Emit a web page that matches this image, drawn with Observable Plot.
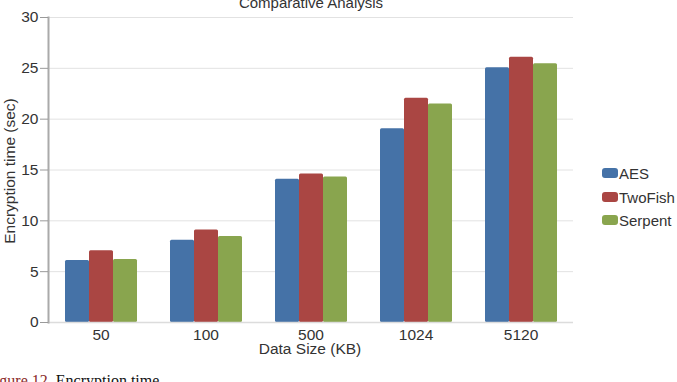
<!DOCTYPE html>
<html>
<head>
<meta charset="utf-8">
<script src="https://cdn.jsdelivr.net/npm/d3@7"></script>
<script src="https://cdn.jsdelivr.net/npm/@observablehq/plot@0.6"></script>
<style>
  html, body { margin: 0; padding: 0; background: #fff; }
  #wrap { position: relative; width: 677px; height: 382px; overflow: hidden; font-family: "Liberation Sans", Arial, sans-serif; color: #333; }
  #wrap svg { position: absolute; left: 0; top: 0; }
  .abs { position: absolute; white-space: nowrap; }
</style>
</head>
<body>
<div id="wrap"></div>
<script>
const sizes = ["50", "100", "500", "1024", "5120"];
const ciphers = ["AES", "TwoFish", "Serpent"];
const aes = [6.1, 8.1, 14.1, 19.05, 25.05];
const twofish = [7.05, 9.1, 14.6, 22.05, 26.1];
const serpent = [6.2, 8.45, 14.3, 21.5, 25.45];
const colors = ["#4572A7", "#AA4643", "#89A54E"];
const yTicks = [0, 5, 10, 15, 20, 25, 30];
const titleText = "Comparative Analysis";
const xLabel = "Data Size (KB)";
const yLabel = "Encryption time (sec)";

const series = [aes, twofish, serpent];
const data = [];
sizes.forEach((s, i) => ciphers.forEach((c, j) => data.push({size: s, cipher: c, value: series[j][i]})));

const chart = Plot.plot({
  width: 677,
  height: 382,
  marginLeft: 47,
  marginRight: 103,
  marginTop: 17,
  marginBottom: 60,
  style: {fontFamily: "'Liberation Sans', Arial, sans-serif", color: "#333", background: "transparent"},
  fx: {domain: sizes, paddingInner: 0, paddingOuter: 0, label: null},
  x: {domain: ciphers, paddingInner: 0, paddingOuter: 0.643, axis: null},
  y: {domain: [0, 30]},
  color: {domain: ciphers, range: colors},
  marks: [
    Plot.ruleY(yTicks.slice(1), {stroke: "#e2e2e2", strokeWidth: 1}),
    Plot.barY(data, {fx: "size", x: "cipher", y: "value", fill: "cipher", rx: 1.5}),
    Plot.ruleY([0], {stroke: "#dcdcdc", strokeWidth: 1.5}),
    Plot.frame({anchor: "left", facetAnchor: "left", stroke: "#aaaaaa", strokeWidth: 2}),
    Plot.axisY(yTicks, {anchor: "left", tickSize: 8, tickPadding: 2, fontSize: 15.5, stroke: "#9a9a9a", fill: "#333", label: null}),
    Plot.axisFx({anchor: "bottom", tickSize: 0, tickPadding: 6, fontSize: 15.5, fill: "#333", label: null})
  ]
});

const wrap = document.getElementById("wrap");
wrap.appendChild(chart);

function addDiv(text, css) {
  const d = document.createElement("div");
  d.className = "abs";
  d.textContent = text;
  Object.assign(d.style, css);
  wrap.appendChild(d);
  return d;
}

addDiv(titleText, {left: "311px", top: "-5px", fontSize: "15px", lineHeight: "15px", transform: "translateX(-50%)", color: "#333"});
addDiv(xLabel, {left: "310px", top: "341px", fontSize: "15.5px", lineHeight: "16px", transform: "translateX(-50%)", color: "#333"});
addDiv(yLabel, {left: "10px", top: "171px", fontSize: "15.5px", lineHeight: "16px", transform: "translate(-50%, -50%) rotate(-90deg)", color: "#333"});

// legend
const legendTops = [173, 197, 220];
ciphers.forEach((c, i) => {
  const row = document.createElement("div");
  row.className = "abs";
  Object.assign(row.style, {left: "602px", top: (legendTops[i] - 8) + "px", height: "16px", display: "flex", alignItems: "center", fontSize: "15px", color: "#333"});
  const sw = document.createElement("span");
  Object.assign(sw.style, {display: "inline-block", width: "16px", height: "10px", borderRadius: "3px", background: colors[i], marginRight: "1px"});
  const t = document.createElement("span");
  t.textContent = c;
  row.appendChild(sw);
  row.appendChild(t);
  wrap.appendChild(row);
});

// caption (cropped at the bottom edge)
const cap = document.createElement("div");
cap.className = "abs";
Object.assign(cap.style, {left: "-14px", top: "373px", fontFamily: "'Liberation Serif', 'Times New Roman', serif", fontSize: "16px", lineHeight: "16px", color: "#111"});
const fig = document.createElement("span");
fig.textContent = "Figure 12.";
fig.style.color = "#8b2a2a";
cap.appendChild(fig);
cap.appendChild(document.createTextNode(" Encryption time."));
wrap.appendChild(cap);
</script>
</body>
</html>
